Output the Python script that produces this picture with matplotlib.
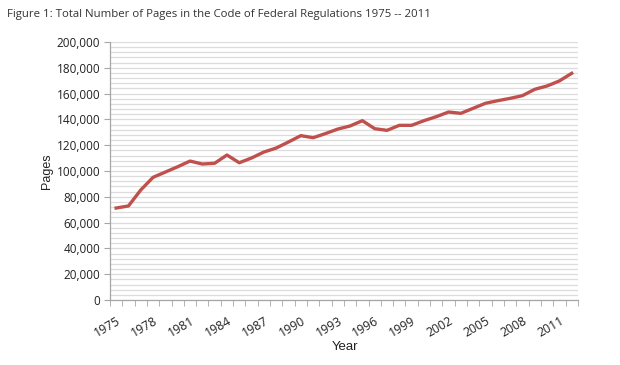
import numpy as np
import matplotlib.pyplot as plt
from matplotlib.ticker import MultipleLocator, FuncFormatter

# CFR page counts
years = list(range(1975, 2013))
pages = [71300, 72900, 85300, 95100, 99200, 103300, 107700, 105400, 106000, 112400,
         106400, 110100, 114700, 117800, 122500, 127400, 125800, 129000, 132500, 134900,
         139000, 132800, 131500, 135400, 135400, 139000, 142100, 145700, 144700, 148600,
         152500, 154500, 156300, 158400, 163300, 165900, 169800, 175700]
tick_years = years[::3]

title = "Figure 1: Total Number of Pages in the Code of Federal Regulations 1975 -- 2011"

fig = plt.figure(figsize=(6.2, 3.65), dpi=100)
ax = fig.add_axes([0.1774, 0.178, 0.7546, 0.707])

x = np.arange(len(years))
ax.plot(x, pages, color='#c0504d', lw=2.4, solid_joinstyle='round', zorder=3)

ax.set_xlim(-0.5, len(years) - 0.5)
ax.set_ylim(0, 200000)

# y axis: majors every 20k, light grid every 4k
ax.yaxis.set_major_locator(MultipleLocator(20000))
ax.yaxis.set_minor_locator(MultipleLocator(4000))
ax.yaxis.set_major_formatter(FuncFormatter(lambda v, p: f"{int(v):,}"))
ax.grid(axis='y', which='both', color='#dcdcdc', lw=0.9, zorder=0)
ax.tick_params(axis='y', which='major', length=4, color='#a6a6a6', labelsize=8.5,
               labelcolor='#222222', pad=3)
ax.tick_params(axis='y', which='minor', length=0)

# x axis: category ticks between points, labels every 3 years
ax.set_xticks(np.arange(-0.5, len(years), 1.0), minor=True)
ax.set_xticks([years.index(y) for y in tick_years])
ax.set_xticklabels([str(y) for y in tick_years], rotation=30, ha='right',
                   rotation_mode='anchor', fontsize=8.8, color='#222222')
ax.tick_params(axis='x', which='major', length=0, pad=10)
ax.tick_params(axis='x', which='minor', length=4, color='#a6a6a6')

for s in ['top', 'right']:
    ax.spines[s].set_visible(False)
for s in ['left', 'bottom']:
    ax.spines[s].set_color('#a6a6a6')
    ax.spines[s].set_linewidth(0.9)

for lab in ax.get_yticklabels():
    lab.set_fontfamily('Open Sans')
for lab in ax.get_xticklabels():
    lab.set_fontfamily('Open Sans')

fig.text(0.011, 1 - 14 / 365, title, fontsize=8.2, family='Open Sans',
         color='#333333', va='center', ha='left')
fig.text(47 / 620, 1 - 171 / 365, 'Pages', rotation=90, fontsize=9,
         family='Liberation Sans', va='center', ha='center', color='#222222')
fig.text(345 / 620, 1 - 347 / 365, 'Year', fontsize=9.5,
         family='Liberation Sans', va='center', ha='center', color='#222222')

fig.savefig('out.png', dpi=100, facecolor='white')
